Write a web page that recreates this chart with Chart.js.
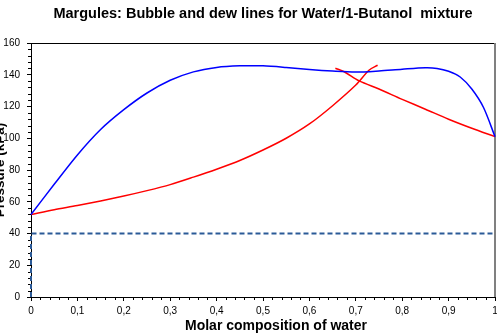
<!DOCTYPE html>
<html>
<head>
<meta charset="utf-8">
<script src="https://cdn.jsdelivr.net/npm/chart.js@4/dist/chart.umd.min.js"></script>
<style>
  html, body { margin: 0; padding: 0; background: #fff; }
  #wrap { width: 497px; height: 334px; position: relative; }
</style>
</head>
<body>
<div id="wrap"><canvas id="c"></canvas></div>
<script>
// ---- Data ----
const bubbleX = [0, 0.05, 0.1, 0.15, 0.2, 0.25, 0.3, 0.35, 0.4, 0.45, 0.5, 0.55, 0.6, 0.65, 0.7, 0.729, 0.747];
const bubbleY = [52, 55, 57.6, 60.5, 63.6, 67, 70.8, 75.5, 80.5, 86, 92.6, 100, 109, 120.5, 133.5, 143, 146];

const dewX = [0, 0.05, 0.1, 0.15, 0.2, 0.25, 0.3, 0.35, 0.4, 0.45, 0.5, 0.55, 0.6, 0.65, 0.7, 0.75, 0.8, 0.85, 0.875, 0.9, 0.925, 0.95, 0.975, 1];
const dewY = [52, 71, 89.5, 105.5, 118, 128.5, 136.5, 141.8, 144.6, 145.6, 145.6, 144.6, 143.3, 142.3, 141.7, 142.4, 143.5, 144.4, 144, 142.2, 138.6, 131, 119.5, 101];

const dew2X = [0.656, 0.675, 0.7075, 0.75, 0.8, 0.85, 0.9, 0.95, 1];
const dew2Y = [144.1, 141.9, 136.1, 131, 124.5, 118.3, 112, 106.3, 101];

const refX = [0, 0, 1];
const refY = [0, 40, 40];

const xTicks = [0, 0.1, 0.2, 0.3, 0.4, 0.5, 0.6, 0.7, 0.8, 0.9, 1];
const yTicks = [0, 20, 40, 60, 80, 100, 120, 140, 160];

const titleText = 'Margules: Bubble and dew lines for Water/1-Butanol  mixture';
const xTitle = 'Molar composition of water';
const yTitle = 'Pressure (kPa)';

function pts(xs, ys) { return xs.map((x, i) => ({ x: x, y: ys[i] })); }

const FONT = "'Liberation Sans', Arial, sans-serif";

const framePlugin = {
  id: 'frame',
  beforeDatasetsDraw(chart) {
    const ctx = chart.ctx, a = chart.chartArea;
    const xs = chart.scales.x, ys = chart.scales.y;
    ctx.save();
    ctx.strokeStyle = '#000'; ctx.lineWidth = 1;
    ctx.beginPath();
    for (let i = 0; i <= 50; i++) {
      if (i % 5 === 0) continue;
      const px = Math.round(xs.getPixelForValue(i / 50)) + 0.5;
      ctx.moveTo(px, a.bottom); ctx.lineTo(px, a.bottom + 3);
    }
    for (let i = 0; i <= 40; i++) {
      if (i % 5 === 0) continue;
      const py = Math.round(ys.getPixelForValue(i * 4)) + 0.5;
      ctx.moveTo(a.left - 3, py); ctx.lineTo(a.left, py);
    }
    ctx.stroke();
    // top border
    ctx.beginPath(); ctx.moveTo(a.left, a.top + 0.5); ctx.lineTo(a.right, a.top + 0.5); ctx.stroke();
    // right border
    ctx.strokeStyle = '#808080'; ctx.lineWidth = 2;
    ctx.beginPath(); ctx.moveTo(a.right, a.top); ctx.lineTo(a.right, a.bottom); ctx.stroke();
    ctx.restore();
  },
  afterDraw(chart) {
    const ctx = chart.ctx, a = chart.chartArea;
    ctx.save();
    ctx.fillStyle = '#000';
    ctx.font = 'bold 14px ' + FONT;
    ctx.textAlign = 'center';
    ctx.textBaseline = 'middle';
    ctx.fillText(xTitle, (a.left + a.right) / 2 + 13, 326);
    ctx.restore();
  }
};

new Chart(document.getElementById('c'), {
  type: 'line',
  data: {
    datasets: [
      { data: pts(refX, refY), borderColor: '#2B5A97', borderWidth: 2, borderDash: [5, 3], pointRadius: 0, tension: 0, clip: false },
      { data: pts(dewX, dewY), borderColor: '#0000FF', borderWidth: 1.5, pointRadius: 0, tension: 0.3, clip: false },
      { data: pts(dew2X, dew2Y), borderColor: '#FF0000', borderWidth: 1.5, pointRadius: 0, tension: 0.3, clip: false },
      { data: pts(bubbleX, bubbleY), borderColor: '#FF0000', borderWidth: 1.5, pointRadius: 0, tension: 0.3, clip: false }
    ]
  },
  options: {
    responsive: true,
    maintainAspectRatio: false,
    animation: false,
    devicePixelRatio: 1,
    layout: { padding: { left: 0, right: 2, top: 0, bottom: 0 } },
    plugins: {
      legend: { display: false },
      tooltip: { enabled: false },
      title: {
        display: true,
        text: titleText,
        fullSize: false,
        color: '#000',
        font: { family: FONT, size: 14.5, weight: 'bold' },
        padding: { top: 5, bottom: 20.6 }
      }
    },
    scales: {
      x: {
        type: 'linear', min: 0, max: 1,
        afterBuildTicks: (s) => { s.ticks = xTicks.map(v => ({ value: v })); },
        afterFit: (s) => { s.height = 37; s.paddingLeft = 0; s.paddingRight = 0; },
        ticks: {
          autoSkip: false, maxRotation: 0, padding: 4, color: '#000',
          font: { family: FONT, size: 10 },
          callback: (v) => (v === 0 || v === 1) ? String(v) : v.toFixed(1).replace('.', ',')
        },
        grid: { display: true, drawOnChartArea: false, drawTicks: true, tickLength: 4, color: '#000' },
        border: { display: true, color: '#000', width: 1 },
        title: { display: false }
      },
      y: {
        type: 'linear', min: 0, max: 160,
        afterBuildTicks: (s) => { s.ticks = yTicks.map(v => ({ value: v })); },
        afterFit: (s) => { s.width = 31; s.paddingTop = 0; s.paddingBottom = 0; },
        ticks: { padding: 7, color: '#000', font: { family: FONT, size: 10 } },
        grid: { display: true, drawOnChartArea: false, drawTicks: true, tickLength: 4, color: '#000' },
        border: { display: true, color: '#000', width: 1 },
        title: { display: true, text: yTitle, color: '#000', font: { family: FONT, size: 13.5, weight: 'bold' }, padding: { top: -8, bottom: 0 } }
      }
    }
  },
  plugins: [framePlugin]
});
</script>
</body>
</html>
